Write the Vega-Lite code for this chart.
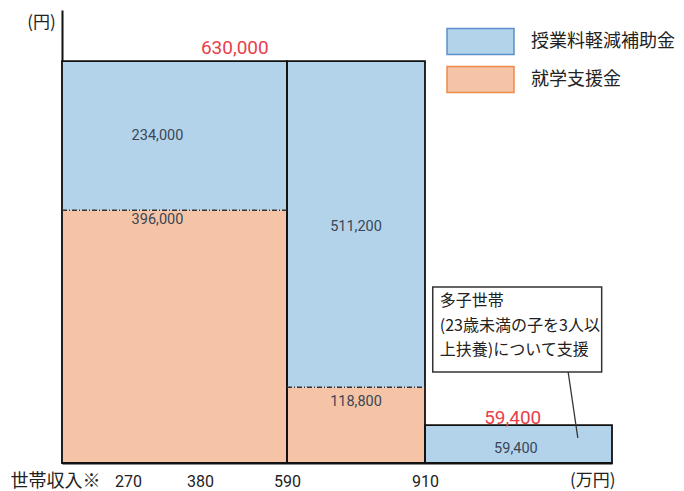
{
  "$schema": "https://vega.github.io/schema/vega-lite/v6.json",
  "width": 550,
  "height": 453,
  "autosize": "none",
  "padding": {"left": 62, "top": 10, "right": 72, "bottom": 28},
  "background": "white",
  "config": {"view": {"stroke": null}, "font": "Noto Sans CJK JP"},
  "datasets": {
    "bars": [
      {"type": "就学支援金", "x0": 0, "x1": 590, "y0": 0, "y1": 396000},
      {"type": "授業料軽減補助金", "x0": 0, "x1": 590, "y0": 396000, "y1": 630000},
      {"type": "就学支援金", "x0": 590, "x1": 910, "y0": 0, "y1": 118800},
      {"type": "授業料軽減補助金", "x0": 590, "x1": 910, "y0": 118800, "y1": 630000},
      {"type": "授業料軽減補助金", "x0": 910, "x1": 1200, "y0": 0, "y1": 59400}
    ],
    "frames": [
      {"x0": 0, "x1": 590, "y0": 0, "y1": 630000},
      {"x0": 590, "x1": 910, "y0": 0, "y1": 630000},
      {"x0": 910, "x1": 1200, "y0": 0, "y1": 59400}
    ],
    "seps": [
      {"x0": 0, "x1": 590, "y": 396000},
      {"x0": 590, "x1": 910, "y": 118800}
    ],
    "values": [
      {"label": "234,000", "x": 315, "y": 513000},
      {"label": "396,000", "x": 315, "y": 380900},
      {"label": "511,200", "x": 750, "y": 369900},
      {"label": "118,800", "x": 750, "y": 95600},
      {"label": "59,400", "x": 1051, "y": 22700}
    ],
    "totals": [
      {"label": "630,000", "x": 464, "y": 650400},
      {"label": "59,400", "x": 1046, "y": 69750}
    ],
    "notebox": [{"x0": 922, "x1": 1184, "y0": 142600, "y1": 275800}],
    "notetext": [
      {"label": "多子世帯", "x": 933, "y": 253900},
      {"label": "(23歳未満の子を3人以", "x": 933, "y": 214700},
      {"label": "上扶養)について支援", "x": 933, "y": 177100}
    ],
    "connector": [{"x0": 1132, "x1": 1147, "y0": 142600, "y1": 39200}],
    "unit": [{"label": "(万円)", "x": 1170, "y": -28200}]
  },
  "layer": [
    {
      "data": {"name": "bars"},
      "mark": {"type": "rect", "strokeWidth": 0},
      "encoding": {
        "x": {
          "field": "x0", "type": "quantitative",
          "scale": {"type": "linear", "domain": [0, 270, 380, 590, 910, 1200], "range": [0, 66, 138, 225, 363, 550]},
          "axis": {
            "values": [270, 380, 590, 910], "ticks": false, "tickSize": 0, "grid": false,
            "domainColor": "#111", "domainWidth": 2,
            "labelFont": "Roboto", "labelFontSize": 16, "labelColor": "#222",
            "labelPadding": 18, "labelBaseline": "middle", "labelFlush": false,
            "title": "世帯収入※", "titleFont": "Noto Sans CJK JP", "titleFontSize": 18,
            "titleFontWeight": "normal", "titleColor": "#222",
            "titleX": -52, "titleY": 18, "titleAlign": "left", "titleBaseline": "middle", "titleAnchor": "start"
          }
        },
        "x2": {"field": "x1"},
        "y": {
          "field": "y0", "type": "quantitative",
          "scale": {"domain": [0, 710000], "nice": false},
          "axis": {
            "labels": false, "ticks": false, "grid": false,
            "domainColor": "#111", "domainWidth": 2,
            "title": "(円)", "titleAngle": 0, "titleX": -21, "titleY": 12,
            "titleAlign": "center", "titleBaseline": "middle",
            "titleFontSize": 17, "titleFontWeight": "normal", "titleColor": "#222", "titleFont": "Noto Sans CJK JP"
          }
        },
        "y2": {"field": "y1"},
        "color": {
          "field": "type", "type": "nominal",
          "scale": {"domain": ["授業料軽減補助金", "就学支援金"], "range": ["#b3d3eb", "#f5c3a5"]},
          "legend": {
            "orient": "none", "legendX": 401, "legendY": 14, "title": null, "padding": 0,
            "symbolType": "M-2,-0.776H2V0.776H-2Z", "symbolSize": 1122,
            "symbolStrokeWidth": 1.5, "symbolOpacity": 1,
            "labelFont": "Noto Sans CJK JP", "labelFontSize": 18, "labelColor": "#222",
            "labelOffset": 33, "rowPadding": 4
          }
        },
        "stroke": {
          "field": "type", "type": "nominal",
          "scale": {"domain": ["授業料軽減補助金", "就学支援金"], "range": ["#5b8fc9", "#ee8a4c"]}
        }
      }
    },
    {
      "data": {"name": "frames"},
      "mark": {"type": "rect", "fill": null, "stroke": "#111", "strokeWidth": 1.8},
      "encoding": {
        "x": {"field": "x0", "type": "quantitative"},
        "x2": {"field": "x1"},
        "y": {"field": "y0", "type": "quantitative"},
        "y2": {"field": "y1"}
      }
    },
    {
      "data": {"name": "seps"},
      "mark": {"type": "rule", "stroke": "#333", "strokeWidth": 1.5, "strokeDash": [5, 2, 1, 2]},
      "encoding": {
        "x": {"field": "x0", "type": "quantitative"},
        "x2": {"field": "x1"},
        "y": {"field": "y", "type": "quantitative"}
      }
    },
    {
      "data": {"name": "values"},
      "mark": {"type": "text", "font": "Roboto", "fontSize": 14.5, "color": "#3a4656", "align": "center", "baseline": "middle"},
      "encoding": {
        "x": {"field": "x", "type": "quantitative"},
        "y": {"field": "y", "type": "quantitative"},
        "text": {"field": "label"}
      }
    },
    {
      "data": {"name": "totals"},
      "mark": {"type": "text", "font": "Roboto", "fontSize": 19, "color": "#e8404a", "align": "center", "baseline": "middle"},
      "encoding": {
        "x": {"field": "x", "type": "quantitative"},
        "y": {"field": "y", "type": "quantitative"},
        "text": {"field": "label"}
      }
    },
    {
      "data": {"name": "notebox"},
      "mark": {"type": "rect", "fill": "white", "stroke": "#333", "strokeWidth": 1.5},
      "encoding": {
        "x": {"field": "x0", "type": "quantitative"},
        "x2": {"field": "x1"},
        "y": {"field": "y0", "type": "quantitative"},
        "y2": {"field": "y1"}
      }
    },
    {
      "data": {"name": "notetext"},
      "mark": {"type": "text", "font": "Noto Sans CJK JP", "fontSize": 16, "color": "#222", "align": "left", "baseline": "middle"},
      "encoding": {
        "x": {"field": "x", "type": "quantitative"},
        "y": {"field": "y", "type": "quantitative"},
        "text": {"field": "label"}
      }
    },
    {
      "data": {"name": "connector"},
      "mark": {"type": "rule", "stroke": "#333", "strokeWidth": 1.3},
      "encoding": {
        "x": {"field": "x0", "type": "quantitative"},
        "x2": {"field": "x1"},
        "y": {"field": "y0", "type": "quantitative"},
        "y2": {"field": "y1"}
      }
    },
    {
      "data": {"name": "unit"},
      "mark": {"type": "text", "font": "Noto Sans CJK JP", "fontSize": 17, "color": "#222", "align": "center", "baseline": "middle", "clip": false},
      "encoding": {
        "x": {"field": "x", "type": "quantitative"},
        "y": {"field": "y", "type": "quantitative"},
        "text": {"field": "label"}
      }
    }
  ]
}
